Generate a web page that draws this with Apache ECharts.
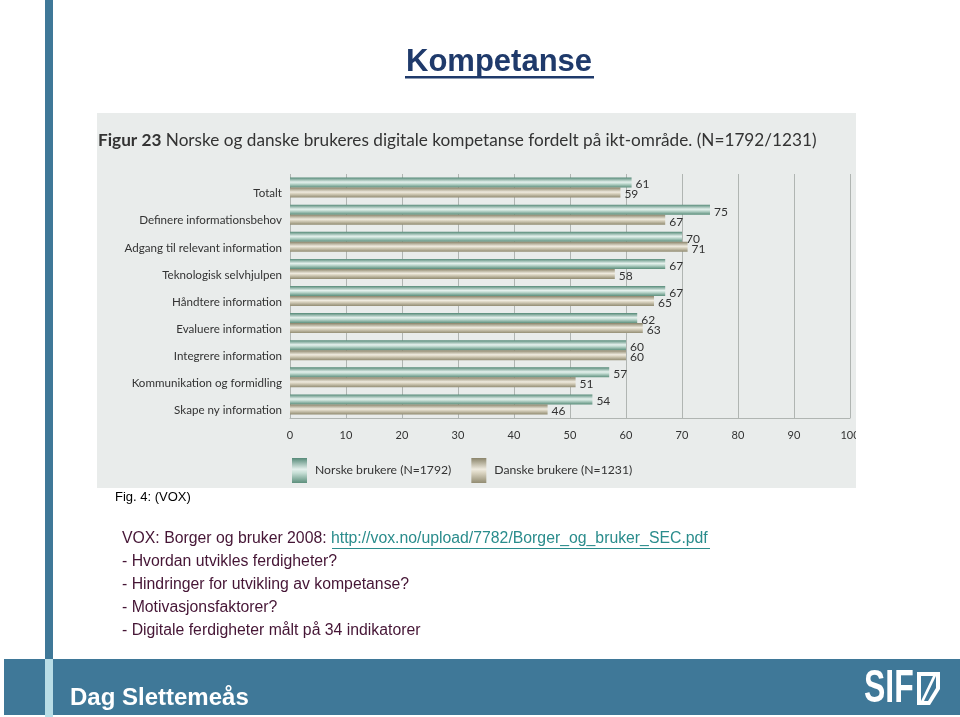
<!DOCTYPE html>
<html>
<head>
<meta charset="utf-8">
<script src="https://cdn.jsdelivr.net/npm/echarts@6/dist/echarts.min.js"></script>
<style>
html,body{margin:0;padding:0;background:#fff;}
#chart{width:960px;height:717px;}
</style>
</head>
<body>
<div id="chart"></div>
<script>
const categories = ['Totalt','Definere informationsbehov','Adgang til relevant information','Teknologisk selvhjulpen','Håndtere information','Evaluere information','Integrere information','Kommunikation og formidling','Skape ny information'];
const norske = [61, 75, 70, 67, 67, 62, 60, 57, 54];
const danske = [59, 67, 71, 58, 65, 63, 60, 51, 46];
const seriesNames = ['Norske brukere (N=1792)', 'Danske brukere (N=1231)'];
const xTicks = [0,10,20,30,40,50,60,70,80,90,100];

const chart = echarts.init(document.getElementById('chart'));
const G = echarts.graphic;
const greenGrad = new G.LinearGradient(0,0,0,1,[
  {offset:0,color:'#568a78'},{offset:0.45,color:'#e4f0ec'},{offset:0.6,color:'#c6ded5'},{offset:1,color:'#5c8f7c'}]);
const tanGrad = new G.LinearGradient(0,0,0,1,[
  {offset:0,color:'#8a846a'},{offset:0.45,color:'#efebdf'},{offset:0.6,color:'#d9d3c0'},{offset:1,color:'#928c72'}]);

const textFont = 'Liberation Sans, Arial, sans-serif';
const textColor = '#451535';
const bandColor = '#3f7898';
const lines = ['- Hvordan utvikles ferdigheter?','- Hindringer for utvikling av kompetanse?','- Motivasjonsfaktorer?','- Digitale ferdigheter målt på 34 indikatorer'];

const graphics = [
  {type:'rect', z:-10, shape:{x:97,y:113,width:759,height:375}, style:{fill:'#e9eceb'}},
  {type:'rect', z:100, shape:{x:856,y:113,width:104,height:375}, style:{fill:'#ffffff'}},
  {type:'rect', shape:{x:45,y:0,width:8,height:660}, style:{fill:bandColor}},
  {type:'rect', shape:{x:4,y:659,width:956,height:56}, style:{fill:bandColor}},
  {type:'rect', shape:{x:45,y:659,width:8,height:58}, style:{fill:'#b9dde6'}},
  {type:'text', left:70, top:686, style:{text:'Dag Slettemeås', fill:'#ffffff', font:'bold 24px '+textFont}},
  {type:'text', x:864, y:689, scaleX:0.68, style:{x:0, y:0, text:'SIF', fill:'#ffffff', verticalAlign:'middle', font:'bold 47px '+textFont}},
  {type:'polygon', shape:{points:[[917,672],[940,672],[940,689],[930,705],[917,705]]}, style:{fill:'#ffffff'}},
  {type:'polygon', shape:{points:[[921,676],[936,676],[936,688],[928,701],[921,701]]}, style:{fill:bandColor}},
  {type:'polygon', shape:{points:[[933,676],[936,676],[924,701],[921,701]]}, style:{fill:'#ffffff'}},
  {type:'text', left:406, top:47, style:{text:'Kompetanse', fill:'#1f3a6b', font:'bold 31px '+textFont}},
  {type:'rect', shape:{x:405,y:76,width:189,height:2.5}, style:{fill:'#1f3a6b'}},
  {type:'text', left:98, top:132, style:{text:'{b|Figur 23} Norske og danske brukeres digitale kompetanse fordelt på ikt-område. (N=1792/1231)', fill:'#333', font:'17.2px Lato, sans-serif', rich:{b:{fontWeight:'bold', fontSize:17.2, fontFamily:'Lato', fill:'#333'}}}},
  {type:'text', left:115, top:491, style:{text:'Fig. 4: (VOX)', fill:'#000', font:'13px '+textFont}},
  {type:'text', left:122, top:531, style:{text:'VOX: Borger og bruker 2008: {l|http://vox.no/upload/7782/Borger_og_bruker_SEC.pdf}', fill:textColor, font:'15.8px '+textFont, rich:{l:{fill:'#2a8c8c', fontSize:15.8, fontFamily:'Liberation Sans'}}}},
  {type:'rect', shape:{x:332,y:548,width:378,height:1}, style:{fill:'#2a8c8c'}}
];
lines.forEach((t,i)=>graphics.push({type:'text', left:122, top:554+i*22.8, style:{text:t, fill:textColor, font:'15.8px '+textFont}}));

chart.setOption({
  animation:false,
  backgroundColor:'#ffffff',
  grid:{left:290, right:110, top:174, height:244},
  legend:{
    left:287, top:453, icon:'rect', itemWidth:15, itemHeight:25, itemGap:20,
    textStyle:{color:'#333', fontSize:12.2, fontFamily:'Lato', padding:[0,0,0,3]},
    data:seriesNames
  },
  xAxis:{
    type:'value', min:0, max:100, interval:10,
    axisLine:{show:true, lineStyle:{color:'#b0b5b2'}},
    axisTick:{show:false},
    splitLine:{show:true, lineStyle:{color:'#b0b5b2', width:1}},
    axisLabel:{color:'#333', fontSize:11, fontFamily:'Lato', margin:12, formatter:(v)=>xTicks.includes(v)?String(v):''}
  },
  yAxis:{
    type:'category', inverse:true, data:categories,
    axisLine:{show:false}, axisTick:{show:false},
    axisLabel:{color:'#333', fontSize:11.6, fontFamily:'Lato', margin:8, verticalAlign:'top'}
  },
  series:[
    {name:seriesNames[0], type:'bar', data:norske, barWidth:10, barGap:'0%',
     itemStyle:{color:greenGrad},
     label:{show:true, position:'right', distance:4, color:'#333', fontSize:12, fontFamily:'Lato', offset:[0,2]}},
    {name:seriesNames[1], type:'bar', data:danske, barWidth:10, barGap:'0%',
     itemStyle:{color:tanGrad},
     label:{show:true, position:'right', distance:4, color:'#333', fontSize:12, fontFamily:'Lato', offset:[0,2]}}
  ],
  graphic:graphics
});
</script>
</body>
</html>
